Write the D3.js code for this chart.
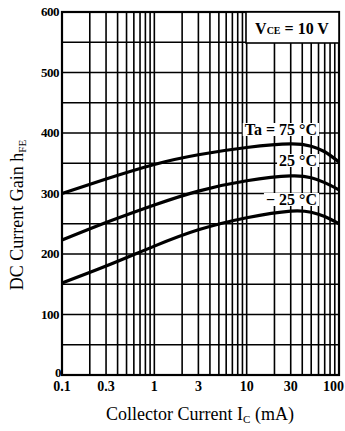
<!DOCTYPE html>
<html><head><meta charset="utf-8">
<script src="https://cdn.jsdelivr.net/npm/d3@7"></script>
<style>body{margin:0;background:#fff}svg{display:block}
text{font-family:"Liberation Serif","DejaVu Serif","Times New Roman",serif}</style>
</head><body>
<script>
const currents = [0.1, 0.3, 1, 3, 10, 30, 50, 70, 100];
const gain75 = [300, 324, 348, 364, 376, 382, 378, 369, 352];
const gain25 = [223, 252, 281, 304, 321, 329, 326, 318, 306];
const gainM25 = [152, 180, 213, 240, 260, 271, 269, 262, 250];
const xTicks = [0.1, 0.3, 1, 3, 10, 30, 100];
const xTickLabels = ["0.1", "0.3", "1", "3", "10", "30", "100"];
const yTicks = [0, 100, 200, 300, 400, 500, 600];
const seriesLabels = ["Ta = 75 °C", "25 °C", "− 25 °C"];

const W = 345, H = 431;
const svg = d3.select("body").append("svg").attr("width", W).attr("height", H);
const x = d3.scaleLog().domain([0.1, 100]).range([62, 339]);
const y = d3.scaleLinear().domain([0, 600]).range([375, 12]);

// grid
const vgrid = [];
[0.1, 1, 10].forEach(d => { for (let k = 1; k < 10; k++) vgrid.push(d * k); });
vgrid.push(100);
svg.append("g").selectAll("line").data(vgrid).join("line")
  .attr("x1", d => x(d)).attr("x2", d => x(d)).attr("y1", y(0)).attr("y2", y(600))
  .attr("stroke", "#000").attr("stroke-width", 1.6);
svg.append("g").selectAll("line").data(d3.range(0, 601, 50)).join("line")
  .attr("x1", x(0.1)).attr("x2", x(100)).attr("y1", d => y(d)).attr("y2", d => y(d))
  .attr("stroke", "#000").attr("stroke-width", 1.6);
svg.append("rect").attr("x", x(0.1)).attr("y", y(600)).attr("width", x(100) - x(0.1)).attr("height", y(0) - y(600))
  .attr("fill", "none").attr("stroke", "#000").attr("stroke-width", 2.2);

// VCE box
svg.append("rect").attr("x", 246).attr("y", y(600)).attr("width", x(100) - 246).attr("height", 31)
  .attr("fill", "#fff").attr("stroke", "#000").attr("stroke-width", 1.6);
const vt = svg.append("text").attr("x", 292).attr("y", 34).attr("text-anchor", "middle")
  .attr("font-weight", "bold").attr("font-size", 16);
vt.append("tspan").text("V");
vt.append("tspan").attr("font-size", 10).text("CE");
vt.append("tspan").text(" = 10 V");

// curves
const line = d3.line().x(d => x(d[0])).y(d => y(d[1])).curve(d3.curveNatural);
[gain75, gain25, gainM25].forEach(s => {
  svg.append("path").attr("d", line(currents.map((c, i) => [c, s[i]])))
    .attr("fill", "none").attr("stroke", "#000").attr("stroke-width", 3.2);
});

// series labels
const labelY = [130, 161, 200];
seriesLabels.forEach((t, i) => {
  const g = svg.append("g");
  const txt = g.append("text").attr("x", 317).attr("y", labelY[i] + 5).attr("text-anchor", "end")
    .attr("font-weight", "bold").attr("font-size", 16).text(t);
  const bb = txt.node().getBBox();
  g.insert("rect", "text").attr("x", bb.x - 2).attr("y", bb.y + 2).attr("width", bb.width + 4).attr("height", bb.height - 4).attr("fill", "#fff");
});

// y tick labels
svg.append("g").selectAll("text").data(yTicks).join("text")
  .attr("x", d => d === 0 ? 61 : 59).attr("y", d => (d === 0 ? y(d) - 2 : y(d)) + 4).attr("text-anchor", "end")
  .attr("font-weight", "bold").attr("font-size", 13).attr("letter-spacing", -0.5)
  .text(d => d);
// x tick labels
svg.append("g").selectAll("text").data(xTicks).join("text")
  .attr("x", d => d === 100 ? 344 : x(d)).attr("y", 391).attr("text-anchor", d => d === 100 ? "end" : "middle")
  .attr("font-weight", "bold").attr("font-size", 14)
  .text((d, i) => xTickLabels[i]);

// axis titles
const xt = svg.append("text").attr("x", 200).attr("y", 420).attr("text-anchor", "middle")
  .attr("font-size", 18);
xt.append("tspan").text("Collector Current  I");
xt.append("tspan").attr("font-size", 11).attr("dy", 3).text("C");
xt.append("tspan").attr("dy", -3).text(" (mA)");

const yt = svg.append("text").attr("transform", "translate(23,215) rotate(-90)").attr("text-anchor", "middle")
  .attr("font-size", 18);
yt.append("tspan").text("DC  Current  Gain  h");
yt.append("tspan").attr("font-size", 11).attr("dy", 3).text("FE");
</script>
</body></html>
